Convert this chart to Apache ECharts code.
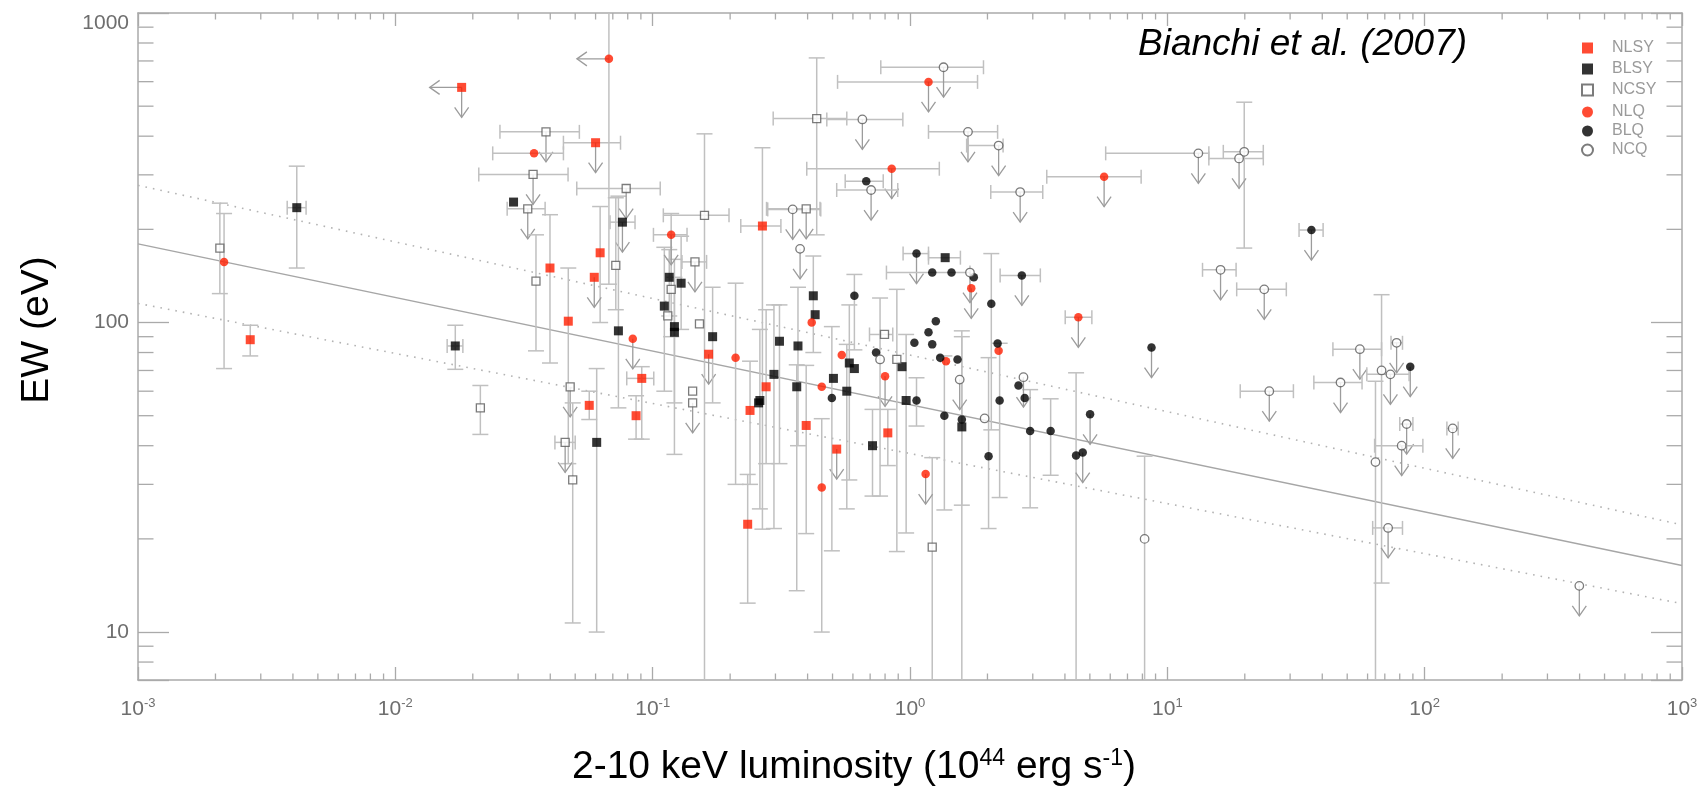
<!DOCTYPE html>
<html><head><meta charset="utf-8">
<script src="https://cdn.jsdelivr.net/npm/echarts@6/dist/echarts.min.js"></script>
<style>html,body{margin:0;padding:0;background:#fff}#c{width:1706px;height:786px}</style>
</head><body><div id="c"></div>
<script>
// ---- axis ranges & ticks ----
const X_MIN = 0.001, X_MAX = 1000, Y_MIN = 7, Y_MAX = 1000;
const xMinorTicks = [0.002,0.003,0.004,0.005,0.006,0.007,0.008,0.009,
  0.02,0.03,0.04,0.05,0.06,0.07,0.08,0.09, 0.2,0.3,0.4,0.5,0.6,0.7,0.8,0.9,
  2,3,4,5,6,7,8,9, 20,30,40,50,60,70,80,90, 200,300,400,500,600,700,800,900];
const yMinorTicks = [8,9, 20,30,40,50,60,70,80,90, 200,300,400,500,600,700,800,900];

// ---- fit lines (L in 1e44 erg/s, EW in eV) ----
const fitLine   = [[0.001, 179.6], [1000, 16.4]];
const upperLine = [[0.001, 277.5], [1000, 22.2]];
const lowerLine = [[0.001, 115.3], [1000, 12.35]];

// point: [L, EW, Llo, Lhi, EWlo, EWhi, flag]  flag: 1 = upper limit (down arrow), 2 = left arrow, 3 = both
const NLSY = [
 [0.00273, 88, null, null, 78, 98, 0],
 [0.0181, 575, null, null, null, null, 3],
 [0.060, 381, 0.045, 0.075, null, null, 1],
 [0.0625, 168, null, null, 100, 237, 0],
 [0.0593, 140, null, null, null, null, 1],
 [0.0399, 150, null, null, 74, 223, 0],
 [0.047, 101, null, null, 35, 150, 0],
 [0.0567, 54, null, null, 48.6, 60, 0],
 [0.0907, 66, 0.0793, 0.101, 42, 72, 0],
 [0.0862, 50, null, null, 42, 58, 0],
 [0.267, 205, 0.220, 0.315, 21.5, 367, 0],
 [0.165, 79, null, null, null, null, 1],
 [0.276, 62, null, null, 35, 110, 0],
 [0.239, 52, null, null, 30, 75, 0],
 [0.234, 22.3, null, null, 12.4, 32.3, 0],
 [0.395, 46.5, null, null, 20.8, 72.7, 0],
 [0.519, 39, null, null, null, null, 1],
 [0.82, 44, null, null, 34.5, 52.4, 0]
];
const BLSY = [
 [0.00414, 235, 0.0038, 0.0045, 150, 320, 0],
 [0.0171, 84, 0.0159, 0.0183, 70.6, 98, 0],
 [0.0288, 245, null, null, null, null, 0],
 [0.0763, 211, 0.0683, 0.0854, null, null, 1],
 [0.0736, 94, null, null, 53, 256, 0],
 [0.0606, 41, null, null, 10, 71, 0],
 [0.116, 140, null, null, 105, 172, 0],
 [0.129, 134, null, null, 95, 190, 0],
 [0.111, 113, null, null, 60, 175, 0],
 [0.1215, 97, null, null, 55, 160, 0],
 [0.1215, 93, null, null, 37.5, 140, 0],
 [0.171, 90, null, null, 55, 130, 0],
 [0.311, 87, null, null, 35, 114, 0],
 [0.367, 84, null, null, 40, 130, 0],
 [0.296, 68, null, null, 21.6, 114, 0],
 [0.363, 62, null, null, 13.6, 73, 0],
 [0.261, 56, null, null, 25, 95, 0],
 [0.258, 55, null, null, null, null, 0],
 [0.421, 122, null, null, 80, 164, 0],
 [0.428, 106, null, null, null, null, 0],
 [0.581, 74, null, null, 31, 114, 0],
 [0.608, 71, null, null, null, null, 0],
 [0.504, 66, null, null, null, null, 0],
 [0.568, 60, null, null, 25, 85, 0],
 [0.715, 40, null, null, 27.5, 52.4, 0],
 [0.931, 72, null, null, null, null, 0],
 [0.966, 56, null, null, 20.9, 91.5, 0],
 [1.37, 162, 1.18, 1.57, null, null, 0],
 [1.59, 46, null, null, 5, 90, 0]
];
const NCSY = [
 [0.00208, 174, null, null, 124, 243, 0],
 [0.0214, 53, null, null, 43.5, 62.6, 0],
 [0.0385, 413, 0.0255, 0.0519, null, null, 1],
 [0.0343, 301, 0.0211, 0.0469, null, null, 1],
 [0.0327, 233, 0.0272, 0.0382, null, null, 1],
 [0.0352, 136, null, null, 81, 192, 0],
 [0.0478, 62, null, null, null, null, 1],
 [0.0457, 41, 0.0417, 0.050, null, null, 1],
 [0.0489, 31, null, null, 10.7, 55, 0],
 [0.0789, 271, 0.0507, 0.107, null, null, 1],
 [0.0719, 153, null, null, 110, 253, 0],
 [0.159, 222, 0.110, 0.198, 5, 407, 0],
 [0.146, 157, 0.130, 0.162, null, null, 1],
 [0.118, 128, null, null, 90, 225, 0],
 [0.1145, 105, null, null, null, null, 0],
 [0.152, 99, null, null, null, null, 0],
 [0.143, 60, null, null, null, null, 0],
 [0.143, 55, null, null, null, null, 1],
 [0.434, 456, 0.294, 0.568, 192, 716, 0],
 [0.395, 233, 0.277, 0.447, null, null, 1],
 [0.796, 91.5, 0.696, 0.857, null, null, 0],
 [0.889, 76, null, null, 18.2, 128, 0],
 [1.22, 18.8, null, null, 5, 36.6, 0]
];
const NLQ = [
 [0.00216, 157, null, null, 71, 225, 0],
 [0.0676, 711, null, null, 133, 1100, 2],
 [0.0346, 352, 0.0239, 0.045, null, null, 0],
 [0.118, 192, 0.1007, 0.136, null, null, 1],
 [0.0837, 88.6, null, null, null, null, 1],
 [0.21, 77, null, null, 30, 134, 0],
 [0.415, 100, null, null, null, null, 0],
 [0.454, 62, null, null, null, null, 0],
 [0.454, 29.3, null, null, 10, 48.9, 0],
 [0.543, 78.5, null, null, null, null, 0],
 [0.80, 67, null, null, null, null, 1],
 [0.849, 314, 0.397, 1.30, null, null, 1],
 [1.18, 599, 0.523, 1.83, null, null, 1],
 [1.38, 75, null, null, null, null, 0],
 [1.73, 129, null, null, null, null, 1],
 [2.21, 81, null, null, null, null, 0],
 [1.15, 32.4, null, null, null, null, 1],
 [4.51, 104, 4.01, 5.09, null, null, 1],
 [5.68, 296, 3.40, 7.91, null, null, 1]
];
const BLQ = [
 [0.676, 286, 0.560, 0.787, null, null, 0],
 [0.608, 122, null, null, 81.6, 143, 0],
 [0.497, 57, null, null, 18.3, 97, 0],
 [0.738, 80, null, null, null, null, 0],
 [1.06, 56, null, null, 46.3, 66.3, 0],
 [1.04, 86, null, null, null, null, 0],
 [1.18, 93, null, null, null, null, 0],
 [1.26, 101, null, null, null, null, 0],
 [1.22, 85, null, null, null, null, 0],
 [1.31, 77, null, null, null, null, 0],
 [1.53, 76, null, null, null, null, 0],
 [1.36, 50, null, null, 24.8, 78, 0],
 [1.59, 48.6, null, null, 25.7, 94, 0],
 [1.06, 167, 0.94, 1.18, null, null, 1],
 [1.22, 145, 0.81, 1.71, null, null, 0],
 [1.45, 145, null, null, null, null, 0],
 [1.77, 140, null, null, null, null, 0],
 [2.07, 115, null, null, 45, 167, 0],
 [2.19, 85.5, null, null, null, null, 0],
 [2.72, 142, 2.24, 3.21, null, null, 1],
 [2.23, 56, null, null, 27.2, 85.7, 0],
 [2.02, 37, null, null, 21.6, 77, 0],
 [2.64, 62.6, null, null, null, null, 0],
 [2.79, 57, null, null, null, null, 0],
 [2.93, 44.6, null, null, 25.2, 60.7, 0],
 [3.52, 44.6, null, null, 32.1, 56.7, 0],
 [4.42, 37.2, null, null, 5, 68.8, 0],
 [4.69, 38, null, null, null, null, 1],
 [5.01, 50.5, null, null, null, null, 1],
 [8.68, 83, null, null, null, null, 1],
 [36.3, 199, 32.5, 40.3, null, null, 1],
 [87.9, 72, null, null, null, null, 1]
];
const NCQ = [
 [0.350, 232, 0.28, 0.45, null, null, 1],
 [0.374, 173, null, null, null, null, 1],
 [0.653, 453, 0.475, 0.938, null, null, 1],
 [0.706, 268, 0.519, 0.896, null, null, 1],
 [1.35, 668, 0.770, 1.93, null, null, 1],
 [1.68, 413, 1.18, 2.19, null, null, 1],
 [2.21, 373, 1.66, 2.3, null, null, 1],
 [2.68, 264, 2.06, 3.28, null, null, 1],
 [13.2, 352, 5.76, 14.5, null, null, 1],
 [19.9, 356, 16.5, 23.6, 174, 515, 0],
 [19.0, 339, 14.5, 23.6, null, null, 1],
 [16.1, 148, 13.7, 18.5, null, null, 1],
 [23.8, 128, 18.6, 29.0, null, null, 1],
 [56.0, 82, 44.0, 68.0, null, null, 1],
 [77.8, 86, 74, 82, null, null, 1],
 [68.0, 70, null, null, 14.4, 123, 0],
 [64.4, 35.4, null, null, 5, 64.6, 0],
 [73.6, 68, 59.6, 87.0, null, null, 1],
 [47.1, 64, 37.1, 57.1, null, null, 1],
 [24.9, 60, 19.2, 30.9, null, null, 1],
 [85.1, 47, 80, 90, null, null, 1],
 [128.5, 45.5, 122, 135, null, null, 1],
 [81.4, 40, 63.9, 98.4, null, null, 1],
 [72.1, 21.7, 62.8, 82.0, null, null, 1],
 [399, 14.1, null, null, null, null, 1],
 [8.16, 20, null, null, 5, 37, 0],
 [2.76, 66.6, null, null, null, null, 1],
 [1.56, 65.4, null, null, null, null, 1],
 [1.71, 145, null, null, null, null, 1],
 [1.95, 49, null, null, null, null, 0],
 [0.765, 76, null, null, 27.5, 120, 0]
];

// ---- fonts ----
function hasFont(name){
  const c = document.createElement('canvas').getContext('2d');
  const t = '2-10 keV luminosity WWW';
  c.font = '40px monospace'; const w0 = c.measureText(t).width;
  c.font = "40px '" + name + "', monospace"; const w1 = c.measureText(t).width;
  return Math.abs(w0 - w1) > 0.5;
}
const narrowOK = hasFont('Liberation Sans Narrow');
const TITLE_FONT = narrowOK ? "'Liberation Sans Narrow'" : "'Liberation Sans', Arial, sans-serif";
const TITLE_SIZE = narrowOK ? 46 : 39;
const SANS = "'Liberation Sans', Arial, sans-serif";
const LABEL_COLOR = '#6e6e6e';
const AXIS_COLOR = '#aaaaaa';
const ERR = '#c0c0c0', ARROW = '#9c9c9c';
const RED = '#ff1e00';

// ---- helpers ----
function norm(p){ return [p[0], p[1], p[2] ?? p[0], p[3] ?? p[0], p[4] ?? p[1], p[5] ?? p[1], p[6]]; }
const allPts = [].concat(NLSY, BLSY, NCSY, NLQ, BLQ, NCQ).map(norm);

function renderErr(params, api){
  const L = api.value(0), E = api.value(1), xl = api.value(2), xh = api.value(3),
        yl = api.value(4), yh = api.value(5), f = api.value(6);
  const p = api.coord([L, E]);
  const kids = [];
  const st = {stroke: ERR, lineWidth: 1.5, fill: null};
  const ln = (x1,y1,x2,y2,s) => kids.push({type:'line', shape:{x1,y1,x2,y2}, style: s || st});
  if (yl !== yh) {
    const a = api.coord([L, yh])[1], b = api.coord([L, yl])[1];
    ln(p[0], a, p[0], b);
    ln(p[0]-8, a, p[0]+8, a); ln(p[0]-8, b, p[0]+8, b);
  }
  if (xl !== xh) {
    const a = api.coord([xl, E])[0], b = api.coord([xh, E])[0];
    ln(a, p[1], b, p[1]);
    ln(a, p[1]-7, a, p[1]+7); ln(b, p[1]-7, b, p[1]+7);
  }
  const ast = {stroke: ARROW, lineWidth: 1.3, fill: null};
  if (f & 1) {
    ln(p[0], p[1], p[0], p[1]+30, ast);
    kids.push({type:'polyline', shape:{points:[[p[0]-7,p[1]+20],[p[0],p[1]+30],[p[0]+7,p[1]+20]]}, style: ast});
  }
  if (f & 2) {
    ln(p[0], p[1], p[0]-32, p[1], ast);
    kids.push({type:'polyline', shape:{points:[[p[0]-22,p[1]-7],[p[0]-32,p[1]],[p[0]-22,p[1]+7]]}, style: ast});
  }
  return {type:'group', children: kids};
}
const tickStyle = {stroke: AXIS_COLOR, lineWidth: 1.3};

function scatter(name, arr, symbol, size, itemStyle){
  return {name, type:'scatter', data: arr.map(p => [p[0], p[1]]), symbol, symbolSize: size,
          itemStyle, z: 5, emphasis: {disabled: true}, animation: false};
}
const openStyle = {color: '#ffffff', borderColor: '#5a5a5a', borderWidth: 1.3};

const chart = echarts.init(document.getElementById('c'), null, {renderer: 'canvas'});
const baseX = {
  type: 'log', logBase: 10, min: X_MIN, max: X_MAX,
  splitLine: {show: false},
  axisLine: {show: true, lineStyle: {color: AXIS_COLOR, width: 1.5}},
  axisTick: {show: true, inside: true, length: 13, lineStyle: {color: AXIS_COLOR, width: 1.3}}
};
const baseY = {
  type: 'log', logBase: 10, min: Y_MIN, max: Y_MAX,
  splitLine: {show: false},
  axisLine: {show: true, lineStyle: {color: AXIS_COLOR, width: 1.5}},
  axisTick: {show: true, inside: true, length: 31, lineStyle: {color: AXIS_COLOR, width: 1.3}}
};

const option = {
  animation: false,
  backgroundColor: '#ffffff',
  grid: {left: 138, right: 24, top: 13, bottom: 106, containLabel: false, outerBoundsMode: 'none'},
  xAxis: [
    Object.assign({}, baseX, {
      position: 'bottom',
      axisLabel: {
        show: true, margin: 17, showMinLabel: true, showMaxLabel: true,
        formatter: v => '{b|10}{s|' + Math.round(Math.log10(v)) + '}',
        rich: {
          b: {fontFamily: SANS, fontSize: 21, color: LABEL_COLOR, lineHeight: 24},
          s: {fontFamily: SANS, fontSize: 13, color: LABEL_COLOR, lineHeight: 24, verticalAlign: 'top'}
        }
      }
    }),
    Object.assign({}, baseX, {position: 'top', axisLabel: {show: false}})
  ],
  yAxis: [
    Object.assign({}, baseY, {
      position: 'left',
      axisLabel: {
        show: true, margin: 9, showMinLabel: true, showMaxLabel: true,
        formatter: v => {
          const e = Math.log10(v), r = Math.round(e);
          if (Math.abs(e - r) > 0.01) return '';
          const s = String(Math.round(Math.pow(10, r)));
          return r === 3 ? '{t|' + s + '}' : '{n|' + s + '}';
        },
        rich: {
          n: {fontFamily: SANS, fontSize: 21, color: LABEL_COLOR},
          t: {fontFamily: SANS, fontSize: 21, color: LABEL_COLOR, padding: [20, 0, 0, 0]}
        }
      }
    }),
    Object.assign({}, baseY, {position: 'right', axisLabel: {show: false}})
  ],
  legend: [
    {data: ['NLSY', 'BLSY', 'NCSY'], orient: 'vertical', left: 1576, top: 35,
     itemWidth: 11, itemHeight: 11, itemGap: 5, selectedMode: false,
     textStyle: {fontFamily: SANS, fontSize: 16, color: '#9a9a9a', lineHeight: 14, padding: [0, 0, 0, 14]}},
    {data: ['NLQ', 'BLQ', 'NCQ'], orient: 'vertical', left: 1576, top: 99,
     itemWidth: 11, itemHeight: 11, itemGap: 3, selectedMode: false,
     textStyle: {fontFamily: SANS, fontSize: 16, color: '#9a9a9a', lineHeight: 14, padding: [0, 0, 0, 14]}}
  ],
  graphic: [
    {type: 'text', x: 1138, y: 26, silent: true,
     style: {text: 'Bianchi et al. (2007)', fontFamily: SANS, fontStyle: 'italic', fontSize: 37, fill: '#000'}},
    {type: 'text', x: 854, y: 767, silent: true,
     style: {text: '2-10 keV luminosity (10{s|44} erg s{s|-1})', fontFamily: TITLE_FONT, fontSize: TITLE_SIZE,
             fill: '#000', align: 'center', verticalAlign: 'middle',
             rich: {s: {fontFamily: TITLE_FONT, fontSize: Math.round(TITLE_SIZE*0.58), fill: '#000',
                        verticalAlign: 'top', lineHeight: TITLE_SIZE}}}},
    {type: 'text', x: 37, y: 330, rotation: Math.PI / 2, silent: true,
     style: {text: 'EW (eV)', fontFamily: TITLE_FONT, fontSize: TITLE_SIZE, fill: '#000',
             align: 'center', verticalAlign: 'middle'}}
  ],
  series: [
    {type: 'line', data: fitLine, showSymbol: false, silent: true, z: 1,
     lineStyle: {color: '#a6a6a6', width: 1.4}},
    {type: 'line', data: upperLine, showSymbol: false, silent: true, z: 1,
     lineStyle: {color: '#b3b3b3', width: 1.6, type: [1.6, 6]}},
    {type: 'line', data: lowerLine, showSymbol: false, silent: true, z: 1,
     lineStyle: {color: '#b3b3b3', width: 1.6, type: [1.6, 6]}},
    {type: 'custom', data: allPts, encode: {x: 0, y: 1}, renderItem: renderErr, clip: true, silent: true, z: 2},
    {type: 'custom', data: xMinorTicks.map(v => [v, Y_MIN]), encode: {x: 0, y: 1}, clip: false, silent: true, z: 3,
     renderItem: (params, api) => {
       const v = api.value(0);
       const b = api.coord([v, Y_MIN]), t = api.coord([v, Y_MAX]);
       return {type: 'group', children: [
         {type: 'line', shape: {x1: b[0], y1: b[1], x2: b[0], y2: b[1]-6.5}, style: tickStyle},
         {type: 'line', shape: {x1: t[0], y1: t[1], x2: t[0], y2: t[1]+6.5}, style: tickStyle}
       ]};
     }},
    {type: 'custom', data: yMinorTicks.map(v => [X_MIN, v]), encode: {x: 0, y: 1}, clip: false, silent: true, z: 3,
     renderItem: (params, api) => {
       const v = api.value(1);
       const l = api.coord([X_MIN, v]), r = api.coord([X_MAX, v]);
       return {type: 'group', children: [
         {type: 'line', shape: {x1: l[0], y1: l[1], x2: l[0]+15.5, y2: l[1]}, style: tickStyle},
         {type: 'line', shape: {x1: r[0], y1: r[1], x2: r[0]-15.5, y2: r[1]}, style: tickStyle}
       ]};
     }},
    scatter('NLSY', NLSY, 'rect', 9, {color: RED}),
    scatter('BLSY', BLSY, 'rect', 9, {color: '#000'}),
    scatter('NCSY', NCSY, 'rect', 8, openStyle),
    scatter('NLQ', NLQ, 'circle', 8.5, {color: RED}),
    scatter('BLQ', BLQ, 'circle', 8.5, {color: '#000'}),
    scatter('NCQ', NCQ, 'circle', 8.5, openStyle)
  ]
};
chart.setOption(option);
</script></body></html>
